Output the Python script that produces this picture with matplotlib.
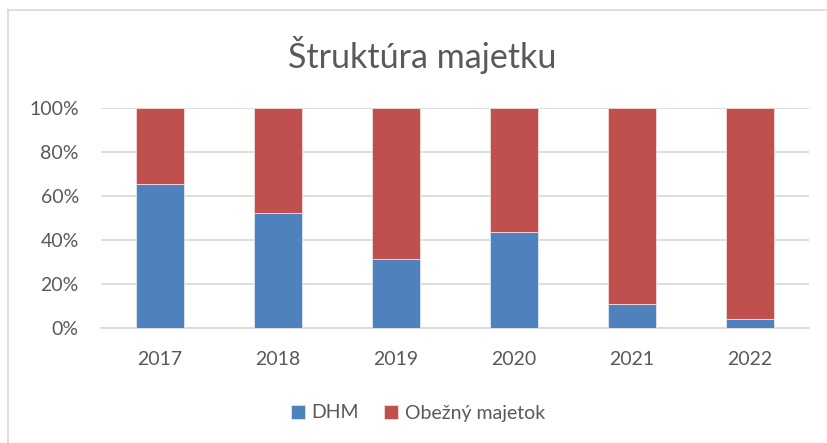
import matplotlib
matplotlib.use("Agg")
import numpy as np
import matplotlib.pyplot as plt
from matplotlib.lines import Line2D
from matplotlib.ticker import FuncFormatter

years = ["2017", "2018", "2019", "2020", "2021", "2022"]
dhm = [65.4, 52.2, 31.3, 43.7, 11.0, 4.1]
obezny = [100 - v for v in dhm]

plt.rcParams['font.family'] = ['Lato', 'DejaVu Sans']

W, H = 827, 443
fig = plt.figure(figsize=(W / 100, H / 100), dpi=100)
ax = fig.add_axes([101/W, 1 - 328.3/H, 708/W, 220/H])

x = np.arange(len(years))
ax.bar(x, dhm, width=0.4, color='#4F81BD', edgecolor='#DCE6F2', linewidth=0.6, label='DHM', zorder=3)
ax.bar(x, obezny, width=0.4, bottom=dhm, color='#C0504D', edgecolor='#F2DCDB', linewidth=0.6,
       label='Obežný majetok', zorder=3)

ax.set_xlim(-0.5, len(years) - 0.5)
ax.set_ylim(0, 100)
ax.set_yticks(np.arange(0, 101, 20))
ax.yaxis.set_major_formatter(FuncFormatter(lambda v, p: "%d%%" % v))
ax.set_xticks(x)
ax.set_xticklabels(years)
ax.grid(axis='y', color='#D9D9D9', linewidth=1.2, zorder=0)
for s in ['top', 'right', 'left']:
    ax.spines[s].set_visible(False)
ax.spines['bottom'].set_color('#D9D9D9')
ax.spines['bottom'].set_linewidth(1.2)
ax.tick_params(axis='both', length=0, labelsize=14, colors='#595959')
ax.tick_params(axis='x', pad=16)
ax.tick_params(axis='y', pad=16)

fig.text(422/W, 1 - 55/H, "Štruktúra majetku", ha='center', va='center', fontsize=24.5, color='#595959')

leg = fig.legend(loc='center', bbox_to_anchor=(418/W, 1 - 413/H), ncol=2, frameon=False,
                 fontsize=14, handlelength=0.72, handleheight=0.72, columnspacing=1.3, handletextpad=0.35)
for t in leg.get_texts():
    t.set_color('#595959')

# chart border (left and top edges visible)
fig.add_artist(Line2D([8/W, 8/W], [0, 1 - 10/H], transform=fig.transFigure, color='#D9D9D9', linewidth=1.2))
fig.add_artist(Line2D([8/W, 1], [1 - 10/H, 1 - 10/H], transform=fig.transFigure, color='#D9D9D9', linewidth=1.2))

fig.savefig("out.png", dpi=100, facecolor='white')
